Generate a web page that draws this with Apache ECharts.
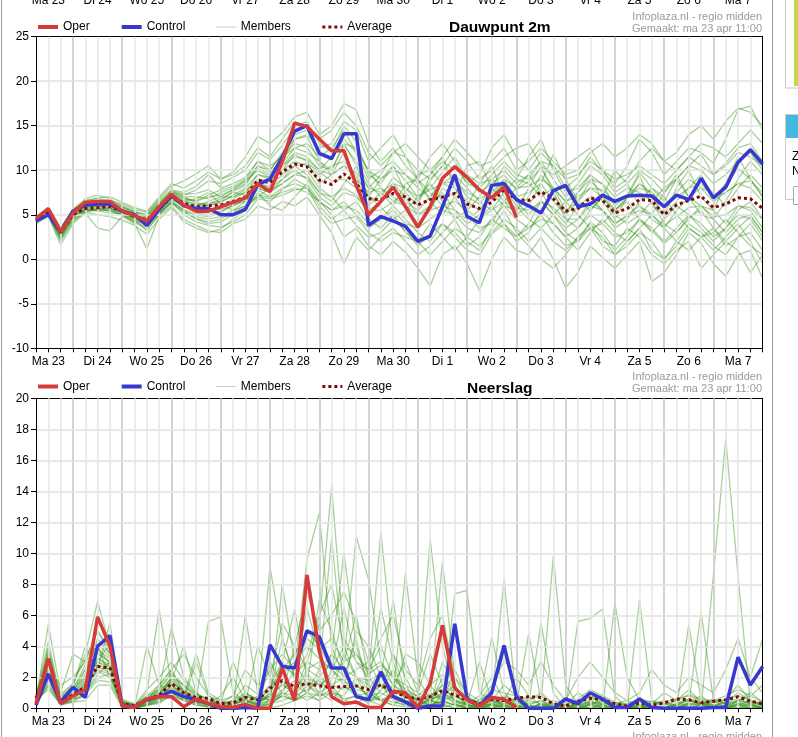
<!DOCTYPE html>
<html><head><meta charset="utf-8">
<script src="https://cdn.jsdelivr.net/npm/echarts@6/dist/echarts.min.js"></script>
<style>html,body{margin:0;padding:0;background:#fff;overflow:hidden}#c{width:798px;height:737px}</style>
</head><body><div id="c"></div>
<script>
// ---------- DATA ----------
const dayLabels = ['Ma 23','Di 24','Wo 25','Do 26','Vr 27','Za 28','Zo 29','Ma 30','Di 1','Wo 2','Do 3','Vr 4','Za 5','Zo 6','Ma 7','Di 8'];
const stepHours = ['06','12','18','00'];
const dewTicks = [-10, 25, 5];
const rainTicks = [0, 20, 2];
const noteSource = 'Infoplaza.nl - regio midden';
const noteMade = 'Gemaakt: ma 23 apr 11:00';

const dewOper = [4.6,5.7,3.1,5.2,6.4,6.5,6.5,5.4,4.9,4.3,5.9,7.3,6.1,5.4,5.4,5.9,6.4,6.9,8.5,7.6,11.0,15.3,14.9,13.5,12.2,12.2,8.3,5.0,6.5,8.1,5.9,3.6,5.9,9.1,10.4,9.2,7.8,6.9,8.1,4.7];
const dewControl = [4.3,5.0,3.1,5.4,6.1,6.2,6.2,5.4,5.0,3.8,5.6,7.2,6.0,5.7,5.7,5.0,5.0,5.6,8.4,9.0,11.5,14.4,15.0,11.9,11.3,14.1,14.1,3.8,4.8,4.3,3.7,2.0,2.6,5.9,9.5,4.8,4.1,8.3,8.5,6.7,6.0,5.2,7.7,8.3,5.9,6.2,7.2,6.5,7.1,7.2,7.1,5.9,7.2,6.7,9.1,6.9,8.1,10.9,12.3,10.7];
const dewAverage = [4.4,5.2,3.0,5.0,5.7,5.8,5.9,5.4,4.8,4.4,5.7,7.0,6.3,5.9,6.0,6.1,6.5,7.0,8.9,8.6,9.8,10.7,10.4,8.9,8.4,9.6,8.5,6.8,6.7,7.4,7.0,6.1,6.7,7.0,7.4,6.2,5.7,6.4,7.8,6.7,6.6,7.6,6.8,5.4,5.7,6.9,6.6,5.2,5.7,6.7,6.6,5.0,6.1,6.6,7.1,5.8,6.2,6.9,6.8,5.7];
const dewMembers = [
 [4.5,5.5,2.8, 5.2,6.0,6.2,6.0, 5.6,5.0,4.6,6.0, 7.4,6.8,6.5,7.0, 7.2,7.8,8.5,10.2, 9.5,11.5,13.0,12.6, 10.5,10.0,12.8,11.0, 8.5,7.0,9.2,8.0, 6.5,8.8,10.5,9.0, 7.0,6.2,8.0,10.5, 9.0,11.5,13.5,10.0, 7.5,8.0,9.5,8.4, 6.0,7.2,9.8,8.0, 6.5,9.0,10.5,11.8, 9.5,10.8,12.5,13.0, 11.0],
 [4.2,5.0,2.2, 4.6,5.5,5.6,5.4, 5.0,4.2,3.6,5.2, 6.4,5.0,4.2,3.8, 3.6,4.2,5.0,6.8, 6.5,7.8,9.0,8.2, 6.0,4.5,5.5,3.8, 2.5,3.0,4.5,3.2, 1.5,2.8,4.0,2.5, 1.0,0.5,2.8,4.0, 2.6,3.5,5.0,3.0, 1.5,2.0,4.2,3.0, 1.0,2.5,4.5,3.2, 1.8,3.0,4.8,5.5, 3.5,2.0,3.5,4.8, 3.0],
 [4.4,5.3,3.2, 5.4,6.2,6.5,6.3, 5.8,5.2,4.8,6.2, 7.6,7.2,7.8,8.8, 8.5,9.2,10.0,12.0, 11.2,12.8,14.8,15.5, 13.0,12.0,15.0,13.2, 9.5,8.5,10.5,8.8, 7.0,8.0,9.8,11.5, 9.0,7.5,8.5,9.5, 7.8,8.8,10.2,8.0, 5.5,6.5,8.8,7.5, 5.5,6.8,8.5,7.2, 4.8,6.5,8.0,9.5, 6.8,8.5,10.2,9.0, 7.0],
 [4.6,5.6,3.4, 5.6,6.8,7.2,6.8, 6.0,5.4,5.0,6.8, 8.2,8.8,9.6,10.5, 9.0,9.8,11.5,13.8, 13.0,14.2,16.0,16.5, 14.0,15.0,17.5,16.8, 13.0,11.0,12.5,10.5, 9.0,11.5,13.0,11.0, 8.5,9.5,12.5,14.0, 11.5,10.0,12.0,10.5, 8.0,9.2,11.5,9.8, 8.5,10.5,13.5,12.0, 9.5,11.0,12.5,12.0, 10.8,13.5,16.8,17.2, 14.5],
 [4.0,4.8,2.0, 4.2,5.3,5.0,4.8, 4.4,3.8,2.8,4.5, 5.8,4.2,3.5,3.0, 3.4,4.5,5.5,7.5, 6.0,5.5,7.0,8.5, 6.5,5.0,2.5,3.5, 1.5,0.5,2.0,0.8, -1.0,-3.0,0.5,1.5, -0.5,-3.5,0.0,2.5, 1.0,0.5,2.5,0.0, -3.2,-1.5,1.5,0.2, -1.0,0.5,2.0,-2.5, -1.5,0.5,3.0,1.8, -0.5,-1.9,0.5,1.0, -2.2],
 [4.3,5.1,2.6, 5.0,5.8,6.0,5.7, 5.2,4.6,4.0,5.4, 6.8,6.0,5.6,5.5, 5.8,6.8,7.5,9.0, 8.8,10.0,11.8,11.0, 8.5,9.5,12.0,9.0, 6.0,7.5,6.0,8.5, 9.0,6.5,5.0,7.0, 10.5,11.0,8.0,6.5, 5.0,6.0,8.5,11.8, 9.0,6.5,5.5,7.0, 10.0,8.5,6.0,5.0, 7.5,9.5,7.0,5.0, 4.5,6.5,9.0,11.0, 9.5],
 [4.5,5.4,3.0, 5.1,5.9,6.1,6.2, 5.7,5.0,4.6,5.6, 6.9,6.3,6.0,6.5, 7.0,7.0,7.8,8.5, 8.2,9.5,10.5,10.8, 9.8,8.8,9.0,8.0, 7.2,5.8,4.5,5.5, 7.0,8.5,6.5,4.5, 5.5,7.0,9.0,8.0, 6.0,4.5,3.5,5.0, 6.5,5.0,3.5,4.0, 5.5,6.5,4.5,3.0, 4.5,6.0,5.0,3.5, 2.0,3.5,5.5,6.5, 4.5],
 [4.2,5.2,3.4, 5.3,6.4,6.6,6.3, 5.5,4.9,4.3,6.0, 7.3,6.5,6.8,7.5, 6.2,5.5,6.5,8.0, 7.5,9.0,10.5,9.5, 7.5,6.5,8.5,10.5, 8.0,9.5,12.0,11.5, 9.0,7.5,6.0,5.5, 4.0,5.0,7.5,6.0, 5.5,7.0,9.5,7.5, 4.5,3.5,5.5,7.0, 5.0,4.0,5.0,6.5, 4.0,3.0,4.5,6.0, 5.5,4.0,6.0,5.5, 3.5],
 [4.4,5.0,2.4, 4.8,5.6,5.4,5.2, 5.1,4.5,3.2,5.0, 6.5,5.5,4.8,4.5, 4.8,5.5,6.0,7.0, 8.0,10.5,12.0,11.5, 10.0,11.5,13.5,12.0, 10.0,8.0,7.0,6.0, 4.0,5.5,8.0,7.0, 5.0,3.5,4.0,6.5, 8.0,9.5,7.5,5.5, 4.0,6.0,7.0,5.5, 3.5,4.5,6.5,8.0, 7.0,5.0,3.5,2.5, 3.0,4.5,3.0,1.5, 0.5],
 [4.6,5.8,3.6, 5.5,6.6,6.8,6.6, 6.2,5.6,5.3,6.6, 7.8,7.5,8.2,9.5, 8.0,8.5,9.2,11.0, 10.0,12.0,13.5,14.0, 12.5,13.0,15.5,14.5, 11.0,12.5,14.0,11.5, 10.0,9.0,10.5,12.5, 11.0,9.0,10.0,11.5, 12.5,13.0,10.5,9.5, 10.5,11.5,12.5,10.0, 8.0,9.0,11.0,12.5, 11.0,10.0,11.5,13.0, 12.5,11.5,13.0,14.5, 13.0],
 [4.1,4.9,1.6, 4.0,5.2,3.5,3.2, 4.8,4.0,1.2,4.8, 6.0,4.5,3.8,3.2, 3.0,4.0,4.5,6.0, 5.5,6.5,6.0,7.0, 5.0,3.0,-0.5,2.5, 1.0,2.5,3.5,2.0, 0.5,1.5,3.0,4.5, 2.0,1.0,3.5,5.5, 3.0,1.5,0.0,-1.0, 0.5,2.5,4.0,2.0, 1.5,3.5,2.5,0.5, -0.5,1.0,2.0,-1.0, 0.5,2.0,1.0,-1.5, 0.5],
 [4.3,5.3,3.1, 5.2,6.0,5.9,5.8, 5.3,4.7,4.4,5.8, 7.2,6.6,6.2,6.0, 6.4,7.2,8.0,9.5, 9.0,10.0,11.0,10.5, 9.5,10.5,11.0,9.5, 7.0,6.5,8.0,6.5, 5.5,7.0,8.5,8.0, 6.5,5.5,7.0,8.5, 7.0,7.5,8.5,6.5, 5.0,6.5,8.0,7.0, 5.5,7.0,8.5,7.5, 6.0,7.5,9.0,8.0, 6.5,7.5,8.5,8.0, 6.5],
 [4.5,5.2,2.5, 4.9,5.7,5.9,6.1, 5.4,4.8,3.8,5.3, 6.7,6.0,5.2,5.0, 5.4,6.0,6.8,8.2, 7.8,8.5,9.5,10.0, 8.0,7.0,5.5,6.5, 4.5,3.5,5.0,3.0, 2.0,4.0,2.5,1.0, 2.5,4.5,6.0,4.0, 2.0,3.0,5.5,4.0, 2.5,1.0,3.0,4.5, 3.0,2.0,3.5,5.0, 3.5,2.0,1.0,2.5, 3.5,1.5,2.5,4.0, 2.0],
 [4.4,5.5,3.5, 5.6,6.3,6.4,6.1, 5.6,5.1,4.9,6.3, 7.5,7.0,7.0,6.8, 7.5,8.0,8.8,10.0, 9.2,10.8,12.5,12.0, 11.0,9.5,10.5,9.0, 7.5,8.0,6.5,7.5, 9.5,10.0,8.5,9.5, 8.0,6.5,5.5,7.5, 9.0,8.5,7.0,8.0, 6.5,7.5,9.0,8.5, 7.0,8.0,7.5,6.5, 8.0,9.0,7.0,8.0, 7.5,6.0,8.0,9.5, 8.0],
 [4.3,5.0,3.0, 5.0,5.5,5.7,5.8, 5.3,4.6,4.2,5.5, 7.0,6.2,5.8,6.2, 6.8,7.5,7.2,8.5, 8.0,9.0,10.0,9.0, 7.0,6.0,7.5,7.0, 5.5,6.5,8.5,7.0, 5.0,6.0,7.5,5.5, 4.5,5.5,7.0,9.0, 6.5,5.0,6.5,5.0, 3.5,4.5,6.5,5.5, 4.0,5.0,6.0,4.5, 3.5,5.5,7.0,6.0, 4.5,3.0,4.5,5.0, 3.0],
 [4.6,5.5,3.2, 5.5,6.6,6.9,7.0, 6.4,5.8,5.4,7.0, 8.5,8.0,8.8,9.8, 9.0,9.5,10.5,12.5, 11.5,13.5,15.5,14.8, 13.5,14.5,16.5,15.0, 12.0,10.5,12.0,13.0, 11.5,10.0,11.5,13.5, 12.0,10.5,11.0,12.5, 10.0,11.0,12.5,11.0, 9.5,10.0,12.0,13.0, 11.5,12.5,14.0,13.0, 11.0,12.0,14.0,15.0, 13.5,15.5,17.0,16.5, 15.0],
 [4.2,5.1,2.8, 4.7,5.5,5.6,5.6, 5.0,4.4,4.0,5.2, 6.5,5.6,5.0,4.8, 5.2,6.2,6.5,7.8, 7.0,8.0,8.5,8.0, 6.5,5.5,6.5,5.0, 3.5,4.5,6.0,4.5, 3.0,2.0,4.0,3.0, 1.5,2.5,4.5,3.5, 2.5,4.0,6.5,5.0, 3.0,2.0,3.5,2.5, 0.5,1.5,3.0,2.0, 0.0,1.5,3.5,2.5, 1.0,2.5,4.0,2.0, -0.5],
 [4.5,5.4,2.9, 5.3,6.1,6.3,6.0, 5.5,4.9,4.5,5.9, 7.3,6.8,6.6,7.2, 7.8,8.2,9.0,11.0, 10.5,11.5,12.5,13.0, 11.5,12.5,14.5,12.0, 9.0,10.0,11.0,9.5, 8.0,7.0,9.0,10.5, 8.5,8.0,9.5,11.0, 9.5,9.0,11.0,9.0, 7.0,8.5,10.5,9.5, 7.5,8.5,10.0,9.0, 7.5,9.0,10.5,10.0, 8.5,9.5,11.0,12.0, 10.0],
 [4.5,5.3,3.1, 5.1,5.9,6.0,6.0, 5.5,4.9,4.5,5.8, 7.1,6.5,6.2,6.3, 6.5,7.0,7.5,9.5, 9.2,10.5,11.5,11.2, 10.0,9.5,10.5,9.8, 8.0,7.5,8.5,8.0, 7.0,7.8,8.5,8.8, 7.5,6.8,7.5,9.0, 8.0,8.2,9.0,8.0, 6.5,7.0,8.0,7.8, 6.5,7.0,8.0,7.5, 6.0,7.0,8.0,8.5, 7.0,7.5,8.5,8.8, 7.5],
 [4.3,5.1,2.9, 4.9,5.6,5.7,5.7, 5.2,4.6,4.2,5.5, 6.8,6.0,5.5,5.6, 5.6,6.0,6.6,8.0, 7.5,8.5,9.5,9.2, 7.5,7.0,8.0,7.2, 5.5,5.5,6.5,6.0, 5.0,5.5,6.0,6.5, 5.5,4.5,5.5,6.5, 5.8,5.5,6.5,5.8, 4.5,4.5,6.0,5.5, 4.0,4.8,5.5,5.0, 3.8,4.8,5.8,6.0, 4.8,5.0,6.0,5.8, 4.5],
 [4.4,5.4,3.3, 5.4,6.3,6.2,6.4, 5.9,5.3,4.7,6.1, 7.6,7.0,6.4,6.0, 6.6,7.6,8.3,10.5, 9.8,11.0,13.5,13.8, 11.0,10.0,13.0,10.5, 7.0,9.0,10.5,7.5, 6.0,9.5,11.5,8.0, 6.0,8.5,10.5,7.0, 5.5,8.0,10.5,7.5, 5.0,7.5,9.5,6.5, 4.5,7.0,9.5,6.0, 5.0,8.0,10.0,7.0, 5.5,8.5,11.5,9.0, 7.0],
 [4.2,4.9,2.6, 4.5,5.4,5.5,5.5, 5.0,4.3,3.9,5.1, 6.3,5.3,4.6,4.2, 4.5,5.3,6.0,7.2, 7.0,7.5,8.0,7.5, 6.5,5.5,6.0,5.5, 4.0,4.5,5.5,4.0, 3.5,4.5,5.5,5.0, 3.5,3.0,4.5,6.0, 4.5,3.5,4.5,4.0, 2.5,3.5,5.0,4.0, 2.5,3.0,4.5,3.5, 2.0,3.5,5.0,4.0, 2.5,3.5,5.0,4.5, 2.5],
 [4.6,5.6,3.3, 5.5,6.4,6.6,6.5, 5.9,5.3,5.0,6.4, 7.7,7.3,7.4,7.8, 7.0,7.8,8.8,10.5, 10.0,11.8,14.0,14.5, 12.0,11.5,13.0,12.5, 10.0,9.0,10.0,9.5, 8.5,9.5,11.0,10.0, 9.5,8.5,9.0,10.0, 8.5,9.5,11.0,10.5, 9.0,9.5,11.0,10.0, 9.0,9.5,10.5,9.5, 8.5,10.0,11.5,10.5, 9.5,10.5,12.0,11.5, 10.5],
 [4.3,5.0,2.3, 4.4,5.3,5.6,5.5, 5.0,4.1,3.4,5.0, 6.4,5.4,4.5,4.0, 4.2,5.0,5.8,7.0, 6.8,7.2,7.8,8.0, 5.5,4.0,4.5,4.8, 3.0,2.0,3.0,2.5, 2.0,0.5,2.0,3.5, 2.5,1.5,3.0,4.5, 3.5,2.0,3.5,2.0, 1.0,2.5,3.5,1.5, 0.5,2.0,3.5,1.0, 0.0,2.0,4.0,3.0, 1.5,0.5,2.5,3.0, 1.0]
];

const rainOper = [0.3,3.2,0.3,0.8,1.2,5.9,4.0,0.15,0.05,0.6,0.75,0.75,0.1,0.6,0.3,0.1,0.05,0.25,0,0,2.6,0.5,8.6,3.7,0.75,0.3,0.4,0.05,0.05,1.1,1.0,0.05,1.6,5.35,1.3,0.55,0.15,0.7,0.6,0.05];
const rainControl = [0.2,2.2,0.4,1.35,0.7,4.0,4.7,0.15,0.1,0.55,0.75,1.1,0.75,0.55,0.3,0,0,0.05,0,4.1,2.7,2.6,5.0,4.6,2.6,2.6,0.75,0.55,2.35,0.75,0.4,0,0.15,0.15,5.45,0.6,0.15,1.0,4.05,0.75,0,0,0,0.6,0.3,1.0,0.6,0.05,0.05,0.6,0.05,0,0,0,0,0.05,0.05,3.3,1.5,2.7];
const rainAverage = [0.65,2.2,0.5,0.85,1.4,2.7,2.6,0.3,0.15,0.55,0.85,1.6,1.0,0.7,0.65,0.3,0.35,0.7,0.55,1.3,1.8,1.4,1.6,1.45,1.35,1.4,1.45,1.2,1.5,1.1,0.75,0.6,0.75,1.15,0.85,0.55,0.3,0.55,0.5,0.65,0.75,0.7,0.3,0.15,0.45,0.65,0.55,0.3,0.15,0.35,0.2,0.35,0.6,0.55,0.35,0.45,0.55,0.75,0.45,0.3];
const rainMembers = [
 [0.5,2.8,0.4, 0.8,1.5,3.2,2.8, 0.2,0.1,0.5,1.0, 2.0,1.2,0.5,0.3, 0.1,0.0,0.4,0.2, 1.5,3.0,2.0,1.0, 0.5,2.5,1.8,0.8, 0.3,1.2,2.5,0.5, 0.2,0.0,0.8,1.5, 0.4,0.1,0.0,0.3, 0.6,0.2,0.0,0.0, 0.0,0.3,0.8,0.2, 0.0,0.0,0.5,0.1, 0.0,0.2,0.6,0.3, 0.1,0.4,1.0,0.5, 0.2],
 [0.8,4.3,0.6, 1.2,2.0,4.5,3.5, 0.3,0.2,0.8,1.5, 2.5,1.0,0.4,0.2, 0.0,0.2,0.8,0.5, 9.1,4.5,2.0,6.5, 3.5,1.5,2.0,4.5, 1.0,0.5,0.2,0.8, 0.0,0.3,2.0,1.0, 0.2,0.0,0.5,1.5, 0.8,0.0,0.0,0.2, 0.0,0.0,0.3,0.5, 0.0,0.2,0.0,0.0, 0.0,0.5,1.2,0.4, 0.0,0.2,0.5,0.3, 0.0],
 [0.3,1.5,0.2, 0.5,1.0,2.0,2.2, 0.1,0.0,0.2,0.5, 1.2,0.8,0.3,0.5, 0.2,0.1,0.3,0.0, 0.5,8.0,3.0,1.5, 0.8,1.0,3.5,2.0, 0.5,2.0,7.0,1.5, 0.3,0.5,1.0,0.3, 0.0,0.2,0.8,0.5, 0.0,0.0,0.3,0.2, 0.0,0.4,1.0,0.5, 0.2,0.0,0.0,0.3, 0.5,0.1,0.0,0.0, 0.0,0.6,1.5,0.5, 0.2],
 [0.6,3.5,0.8, 1.5,3.5,6.9,4.0, 0.4,0.2,1.0,6.4, 1.5,0.6,0.3,0.1, 0.0,0.0,0.2,0.0, 0.2,1.0,2.5,9.6, 12.6,4.0,2.0,1.5, 0.8,1.5,0.5,0.2, 0.0,0.8,1.5,0.5, 0.0,0.0,0.3,0.1, 0.0,0.2,0.5,0.0, 0.0,0.0,0.2,0.6, 0.3,0.0,0.0,0.1, 0.0,0.0,0.4,0.8, 0.2,0.0,0.3,0.2, 0.0],
 [0.4,2.0,0.3, 0.7,1.2,2.5,5.5, 0.2,0.0,0.3,0.8, 1.8,4.0,1.0,0.5, 0.3,0.5,1.0,0.6, 1.5,2.0,1.0,3.0, 5.5,14.3,4.5,3.0, 2.0,11.4,3.5,1.0, 0.5,0.2,3.0,1.5, 0.5,0.2,0.5,0.3, 0.2,0.0,0.0,0.5, 0.3,0.0,0.0,0.2, 0.0,0.0,0.4,0.2, 0.0,0.0,0.0,0.3, 0.6,0.3,0.0,0.0, 0.0],
 [0.7,2.5,0.5, 1.0,2.5,3.5,3.0, 0.3,0.1,4.0,1.5, 1.0,0.5,3.0,0.8, 0.2,0.0,0.0,0.3, 0.8,3.0,6.4,2.0, 1.0,3.5,10.0,4.0, 1.5,0.5,1.0,8.7, 2.0,0.5,0.3,0.0, 0.3,0.8,2.0,0.5, 0.0,0.3,5.5,1.0, 0.0,0.2,0.5,0.0, 0.0,0.3,0.0,0.0, 0.0,0.0,0.2,0.5, 0.2,0.0,0.0,0.4, 0.3],
 [0.5,5.4,1.0, 3.5,3.0,5.0,3.5, 0.6,0.3,0.5,0.8, 2.0,1.5,0.8,0.3, 0.0,0.3,6.0,1.0, 0.5,0.8,1.5,1.0, 2.5,11.0,3.0,11.1, 8.3,3.0,2.0,1.0, 0.5,10.9,4.0,1.0, 0.2,0.0,0.3,0.8, 0.5,0.0,0.0,0.0, 0.2,0.5,0.3,0.0, 0.0,0.0,0.2,0.0, 0.0,0.3,0.6,0.2, 0.0,0.0,0.5,1.0, 0.4],
 [0.2,1.8,0.3, 0.6,0.8,2.8,2.5, 0.1,0.0,0.4,0.6, 1.4,0.8,0.5,5.6, 5.9,1.0,0.5,0.2, 0.3,0.5,0.8,1.2, 1.8,1.0,0.8,2.0, 1.2,2.5,1.5,0.8, 0.3,0.6,9.5,2.0, 0.5,0.0,0.2,0.0, 0.0,0.0,0.3,9.8, 1.5,0.2,0.0,0.0, 6.8,2.0,0.5,0.0, 0.0,0.2,0.5,0.3, 0.0,0.0,0.2,0.0, 0.0],
 [0.9,3.0,0.5, 1.0,1.8,3.0,2.5, 0.2,0.1,0.6,1.0, 1.6,1.2,0.6,0.4, 0.1,0.2,0.5,0.3, 1.0,2.5,3.5,5.0, 4.0,2.5,6.5,3.0, 2.5,4.0,2.0,1.5, 1.0,0.5,0.3,7.4, 7.6,1.0,0.5,0.2, 0.0,0.5,1.0,0.3, 0.0,5.6,5.8,6.4, 0.8,0.0,0.2,0.0, 0.0,0.0,5.4,0.5, 0.0,0.0,0.3,0.0, 0.0],
 [0.3,2.2,0.6, 0.9,1.0,2.2,3.0, 0.5,0.2,0.8,1.2, 5.2,2.0,1.0,0.5, 0.3,3.0,1.0,0.5, 0.8,1.5,1.0,2.5, 2.0,3.0,2.0,2.5, 3.0,1.5,0.8,0.5, 0.3,0.0,0.5,0.8, 0.3,3.0,0.5,8.3, 0.5,0.0,0.2,0.0, 0.0,0.3,0.8,0.5, 0.2,0.0,7.0,0.5, 0.0,0.0,0.3,6.2, 0.5,0.0,0.0,0.0, 0.2],
 [0.5,4.0,0.4, 0.8,1.5,4.0,2.0, 0.2,0.1,0.3,0.5, 1.0,0.6,0.4,0.3, 0.2,0.5,0.3,4.0, 2.0,1.0,0.5,1.5, 7.0,5.0,2.5,1.0, 0.5,0.8,1.5,3.0, 1.0,3.5,1.5,0.5, 0.2,0.5,4.6,1.0, 0.2,4.8,0.5,0.0, 0.0,0.0,0.0,0.0, 0.3,0.5,0.2,0.0, 0.0,0.2,0.0,0.0, 8.6,17.4,8.5,0.3, 0.0],
 [0.6,1.2,0.3, 0.4,0.5,1.5,1.5, 0.0,0.0,0.2,0.4, 0.8,0.5,0.2,0.1, 0.0,0.0,0.1,0.0, 0.0,0.2,0.5,0.8, 0.5,1.0,0.5,0.3, 0.8,0.5,0.2,0.1, 0.0,0.2,0.5,0.2, 0.0,0.0,0.0,0.2, 0.0,0.0,0.0,0.0, 0.0,0.0,0.2,0.0, 0.0,0.0,0.0,0.0, 0.0,0.0,0.0,0.0, 0.0,0.0,0.2,0.5, 0.3],
 [0.8,2.6,1.5, 2.0,3.0,4.0,2.8, 0.4,0.2,0.5,1.5, 2.5,3.5,2.0,0.8, 0.5,0.8,0.5,0.3, 1.0,4.5,2.0,3.5, 6.0,8.0,4.0,2.0, 1.5,6.5,3.0,0.5, 0.2,1.0,0.5,2.5, 0.8,0.3,0.0,0.5, 2.0,0.8,0.2,0.0, 0.0,0.0,0.5,0.8, 0.2,0.0,0.0,0.5, 0.3,0.0,0.0,0.2, 0.5,0.5,3.0,2.0, 4.5],
 [0.4,3.2,0.5, 1.2,2.8,3.8,3.2, 0.3,0.1,0.3,0.6, 1.5,0.9,0.6,0.4, 0.2,0.0,0.3,0.8, 0.5,1.0,0.8,2.0, 1.5,2.0,3.0,6.0, 2.0,1.0,3.5,2.0, 0.5,0.2,0.0,0.3, 0.0,0.3,0.2,0.0, 0.5,0.0,0.0,0.0, 0.0,0.2,0.0,0.0, 0.0,0.0,0.0,0.0, 0.0,0.0,0.0,0.0, 0.0,0.2,0.0,0.0, 0.0],
 [0.3,1.6,0.3, 0.5,1.4,2.4,2.0, 0.2,0.0,0.2,0.4, 1.2,0.7,3.5,1.0, 0.5,0.2,0.0,0.0, 3.0,1.5,1.0,0.5, 1.0,0.5,1.5,0.8, 0.5,0.2,1.0,3.5, 3.0,1.5,0.5,0.2, 0.0,0.5,1.0,3.5, 1.0,0.2,0.0,0.0, 0.2,1.0,0.5,0.2, 0.0,0.0,0.0,0.3, 1.0,0.5,0.0,0.0, 0.0,0.0,0.5,0.8, 1.5],
 [0.6,2.4,0.7, 1.4,4.0,2.5,2.2, 0.3,0.2,0.6,0.9, 1.8,1.0,0.5,0.3, 0.8,2.0,0.5,0.2, 0.5,1.0,4.0,2.5, 3.0,2.5,1.5,5.0, 4.0,2.0,1.0,0.8, 0.5,0.0,1.0,0.5, 0.3,0.0,0.2,0.5, 0.2,0.0,0.3,0.0, 0.0,0.0,0.0,0.3, 0.2,0.0,0.0,0.0, 0.0,0.0,0.3,0.2, 0.0,0.0,0.2,0.0, 0.0],
 [0.5,3.8,0.4, 0.9,2.0,3.0,4.2, 0.3,0.1,0.2,0.7, 1.3,0.6,0.3,0.2, 0.0,0.1,0.2,0.0, 0.3,0.8,0.5,1.0, 2.0,1.5,0.5,0.8, 1.0,0.5,0.8,0.3, 0.2,0.5,0.2,0.0, 0.0,0.0,0.0,0.2, 0.0,0.0,0.0,0.0, 0.0,0.0,0.0,0.0, 0.0,0.0,0.0,0.0, 0.0,0.0,0.0,0.0, 0.0,0.0,0.0,0.2, 0.0],
 [0.7,2.0,0.4, 0.7,1.6,3.3,2.6, 0.3,0.3,0.5,1.2, 2.2,1.4,0.7,0.4, 0.1,0.3,0.8,0.5, 0.6,2.2,3.0,4.0, 3.2,2.5,4.0,3.5, 2.5,3.0,1.5,1.0, 0.8,0.5,1.5,1.0, 0.6,0.2,0.6,0.4, 0.5,0.3,0.5,0.2, 0.0,0.2,0.4,0.3, 0.2,0.3,0.5,0.4, 0.3,0.2,0.3,0.4, 0.4,0.3,0.5,0.4, 0.2],
 [0.6,2.9,0.6, 1.1,2.2,3.6,3.0, 0.3,0.2,0.7,1.1, 1.9,1.1,0.6,0.4, 0.2,0.4,0.9,0.6, 1.2,2.8,2.2,3.0, 2.5,3.5,2.5,2.0, 1.8,2.2,1.2,0.8, 0.6,0.8,1.2,0.8, 0.4,0.3,0.8,0.5, 0.6,0.5,0.3,0.1, 0.0,0.5,0.8,0.6, 0.3,0.2,0.4,0.2, 0.4,0.6,0.8,0.5, 0.4,0.6,0.8,0.5, 0.3],
 [0.4,1.9,0.4, 0.6,1.3,2.7,2.3, 0.2,0.1,0.4,0.7, 1.5,0.9,0.4,0.3, 0.0,0.2,0.6,0.4, 0.8,1.6,1.2,2.2, 1.5,2.0,1.8,1.2, 1.0,1.6,0.9,0.5, 0.3,0.4,1.0,0.6, 0.2,0.1,0.4,0.3, 0.3,0.2,0.0,0.0, 0.0,0.0,0.3,0.4, 0.1,0.0,0.2,0.1, 0.0,0.3,0.5,0.3, 0.2,0.3,0.4,0.2, 0.1],
 [0.7,3.4,0.9, 1.6,3.2,5.0,3.8, 0.5,0.2,1.2,2.0, 3.0,1.8,0.9,0.5, 0.3,0.8,2.5,1.5, 2.0,5.5,4.0,7.5, 5.0,6.0,7.5,5.5, 3.0,4.5,6.0,2.5, 1.5,4.5,6.0,2.0, 1.0,0.5,1.5,3.0, 2.5,1.5,3.0,1.5, 0.5,2.0,3.0,2.0, 1.0,0.5,1.0,2.5, 1.5,1.0,2.0,1.5, 1.0,2.5,4.5,2.0, 1.0],
 [0.5,2.3,0.5, 0.9,1.7,3.0,2.7, 0.2,0.1,0.5,0.9, 1.7,1.0,0.5,0.3, 0.1,0.3,0.5,0.3, 0.5,1.2,1.8,1.5, 1.0,1.5,1.2,1.5, 0.8,1.0,0.6,0.4, 0.2,0.6,0.8,0.4, 0.2,0.1,0.3,0.2, 0.2,0.0,0.2,0.1, 0.0,0.2,0.3,0.2, 0.0,0.1,0.2,0.1, 0.0,0.1,0.2,0.3, 0.2,0.4,0.6,0.3, 0.2],
 [0.8,3.6,0.7, 1.3,2.5,4.2,3.3, 0.4,0.2,0.6,1.3, 2.3,1.5,0.9,0.6, 0.2,0.5,1.5,0.9, 2.5,3.5,2.5,4.5, 3.8,4.5,3.0,3.5, 2.2,2.8,2.0,1.2, 0.8,1.5,2.2,1.2, 0.6,0.4,1.2,1.0, 0.8,0.6,0.8,0.3, 0.2,0.6,1.2,0.8, 0.4,0.3,0.6,0.4, 0.2,0.5,0.9,0.6, 0.5,0.8,1.2,0.8, 0.4],
 [0.3,1.4,0.2, 0.4,0.9,1.8,1.7, 0.1,0.0,0.2,0.3, 0.9,0.5,0.2,0.1, 0.0,0.1,0.3,0.1, 0.3,0.8,0.5,1.0, 0.8,1.2,0.6,0.8, 0.5,0.6,0.4,0.2, 0.1,0.3,0.4,0.2, 0.1,0.0,0.2,0.1, 0.0,0.0,0.1,0.0, 0.0,0.1,0.2,0.1, 0.0,0.0,0.1,0.0, 0.0,0.0,0.1,0.2, 0.1,0.2,0.3,0.1, 0.0]
];

// ---------- BUILD ----------
const FONT = '"Liberation Sans", Arial, sans-serif';
const N = 60;
const timeSteps = [];
for (let i = 0; i < N; i++) {
  timeSteps.push(dayLabels[Math.floor((i + 1) / 4)] + ' ' + stepHours[i % 4] + ':00');
}
const isNoon = (i) => i % 4 === 1;
const isMidnight = (i) => i % 4 === 3 && i < N - 1;
const labelFmt = (v, i) => dayLabels[(i - 1) / 4];

const GRIDS = [
  { left: 36, right: 35.3, top: 36.7, height: 311.6, outerBoundsMode: 'none', containLabel: false },
  { left: 36, right: 35.3, top: 398.3, height: 310, outerBoundsMode: 'none', containLabel: false }
];

function mainX(g) {
  return {
    gridIndex: g, type: 'category', data: timeSteps, boundaryGap: false, position: 'bottom',
    axisLine: { show: true, onZero: false, lineStyle: { color: '#000', width: 1 } },
    axisTick: { show: true, interval: 0, length: 4, lineStyle: { color: '#000' } },
    axisLabel: { interval: isNoon, formatter: labelFmt, color: '#000', fontSize: 12, fontFamily: FONT, margin: 7 },
    splitLine: { show: true, interval: 0, showMinLine: false, showMaxLine: false, lineStyle: { color: '#e6e6e6', width: 1.5 } },
    z: 3
  };
}
// top axis: frame line, midnight lines; panel 0 also shows the clipped labels of the chart above
function darkX(g, withLabels) {
  return {
    gridIndex: g, type: 'category', data: timeSteps, boundaryGap: false, position: 'top',
    axisLine: { show: true, onZero: false, lineStyle: { color: '#000', width: 1 } },
    axisTick: { show: false },
    axisLabel: { show: withLabels, interval: isNoon, formatter: labelFmt, color: '#000', fontSize: 12, fontFamily: FONT, margin: 30 },
    splitLine: { show: true, interval: isMidnight, lineStyle: { color: '#7c7c7c', width: 1.5 } },
    z: 2
  };
}
function mainY(g, t) {
  return {
    gridIndex: g, type: 'value', min: t[0], max: t[1], interval: t[2], position: 'left',
    axisLine: { show: true, lineStyle: { color: '#000' } },
    axisTick: { show: true, length: 5, lineStyle: { color: '#000' } },
    axisLabel: { color: '#000', fontSize: 12, fontFamily: FONT, margin: 7 },
    splitLine: { show: true, showMinLine: false, showMaxLine: false, lineStyle: { color: '#e2e2e2', width: 1.5 } },
    z: 3
  };
}
function rightY(g, t) {
  return {
    gridIndex: g, type: 'value', min: t[0], max: t[1], position: 'right',
    axisLine: { show: true, lineStyle: { color: '#000' } },
    axisTick: { show: false }, axisLabel: { show: false }, splitLine: { show: false }, z: 3
  };
}

const memberStyle = { color: 'rgba(60,150,30,0.45)', width: 1.3 };
function panelSeries(xi, yi, members, avg, ctrl, oper) {
  const s = [];
  members.forEach(m => s.push({ type: 'line', name: 'Members', xAxisIndex: xi, yAxisIndex: yi, data: m,
    symbol: 'none', silent: true, itemStyle: { color: '#b4dcaa' }, lineStyle: memberStyle, z: 2 }));
  s.push({ type: 'line', name: 'Average', xAxisIndex: xi, yAxisIndex: yi, data: avg, symbol: 'none', silent: true,
    itemStyle: { color: '#7d0a0a' }, lineStyle: { color: '#7d0a0a', width: 3, type: [3, 3] }, z: 3 });
  s.push({ type: 'line', name: 'Control', xAxisIndex: xi, yAxisIndex: yi, data: ctrl, symbol: 'none', silent: true,
    itemStyle: { color: '#3737d2' }, lineStyle: { color: '#3737d2', width: 3.5 }, z: 4 });
  s.push({ type: 'line', name: 'Oper', xAxisIndex: xi, yAxisIndex: yi, data: oper, symbol: 'none', silent: true,
    itemStyle: { color: '#d83a3a' }, lineStyle: { color: '#d83a3a', width: 3.5 }, z: 5 });
  return s;
}

function legendAt(top) {
  const hide = { opacity: 0 };
  return {
    left: 36, top: top, padding: 0, itemWidth: 20, itemHeight: 14, itemGap: 30, selectedMode: false,
    textStyle: { color: '#000', fontSize: 12, fontFamily: FONT },
    data: [
      { name: 'Oper', itemStyle: hide, lineStyle: { color: '#d83a3a', width: 4 } },
      { name: 'Control', itemStyle: hide, lineStyle: { color: '#3737d2', width: 4 } },
      { name: 'Members', itemStyle: hide, lineStyle: { color: '#b4dcaa', width: 1 } },
      { name: 'Average', itemStyle: hide, lineStyle: { color: '#7d0a0a', width: 3, type: [3, 3] } }
    ]
  };
}
function noteText(text, y) {
  return { type: 'text', silent: true, z: 10,
    style: { text: text, x: 762, y: y, font: '11px ' + FONT, fill: '#9a9a9a',
      textAlign: 'right', align: 'right', textVerticalAlign: 'middle', verticalAlign: 'middle' } };
}

const option = {
  animation: false,
  backgroundColor: '#fff',
  grid: GRIDS,
  xAxis: [mainX(0), darkX(0, true), mainX(1), darkX(1, false)],
  yAxis: [mainY(0, dewTicks), rightY(0, dewTicks), mainY(1, rainTicks), rightY(1, rainTicks)],
  legend: [legendAt(21), legendAt(380.5)],
  title: [
    { text: 'Dauwpunt 2m', left: 449, top: 20, padding: 0, textStyle: { fontSize: 15.5, fontWeight: 'bold', color: '#000', fontFamily: FONT } },
    { text: 'Neerslag', left: 467, top: 381, padding: 0, textStyle: { fontSize: 15.5, fontWeight: 'bold', color: '#000', fontFamily: FONT } }
  ],
  graphic: [
    noteText(noteSource, 16.5), noteText(noteMade, 28.5),
    noteText(noteSource, 376.5), noteText(noteMade, 388.5),
    noteText(noteSource, 737),
    { type: 'line', silent: true, shape: { x1: 1.5, y1: 0, x2: 1.5, y2: 737 }, style: { stroke: '#9a9a9a', lineWidth: 1 } },
    { type: 'line', silent: true, shape: { x1: 772.5, y1: 0, x2: 772.5, y2: 737 }, style: { stroke: '#9a9a9a', lineWidth: 1 } },
    { type: 'rect', silent: true, shape: { x: 785.5, y: -2, width: 14, height: 90 }, style: { fill: '#fff', stroke: '#c8c8c8', lineWidth: 1 } },
    { type: 'rect', silent: true, shape: { x: 794, y: 0, width: 4, height: 86 }, style: { fill: '#c9d64c' } },
    { type: 'rect', silent: true, shape: { x: 785.5, y: 114.5, width: 14, height: 85 }, style: { fill: '#fff', stroke: '#c8c8c8', lineWidth: 1 } },
    { type: 'rect', silent: true, shape: { x: 786, y: 115, width: 13, height: 23 }, style: { fill: '#42b8de' } },
    { type: 'text', silent: true, style: { text: 'Z', x: 792, y: 157, font: '12px ' + FONT, fill: '#000', textVerticalAlign: 'middle', verticalAlign: 'middle' } },
    { type: 'text', silent: true, style: { text: 'N', x: 792, y: 172, font: '12px ' + FONT, fill: '#000', textVerticalAlign: 'middle', verticalAlign: 'middle' } },
    { type: 'rect', silent: true, shape: { x: 793.5, y: 186.5, width: 8, height: 18 }, style: { fill: '#fff', stroke: '#aaa', lineWidth: 1 } }
  ],
  series: [].concat(
    panelSeries(0, 0, dewMembers, dewAverage, dewControl, dewOper),
    panelSeries(2, 2, rainMembers, rainAverage, rainControl, rainOper)
  )
};

const chart = echarts.init(document.getElementById('c'), null, { renderer: 'canvas' });
chart.setOption(option);
</script>
</body></html>
